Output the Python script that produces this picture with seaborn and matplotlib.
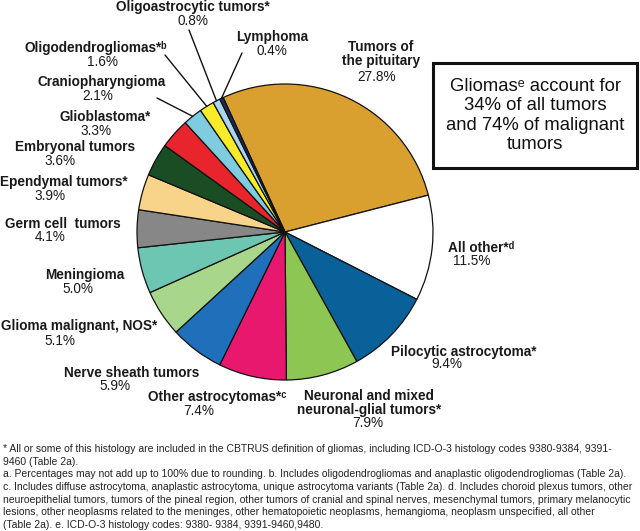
import matplotlib
matplotlib.use("Agg")
import matplotlib.pyplot as plt
import seaborn as sns
import numpy as np
from matplotlib.patches import Rectangle

categories = ["Tumors of\nthe pituitary", "All other*ᵈ", "Pilocytic astrocytoma*",
              "Neuronal and mixed\nneuronal-glial tumors*", "Other astrocytomas*ᶜ",
              "Nerve sheath tumors", "Glioma malignant, NOS*", "Meningioma",
              "Germ cell  tumors", "Ependymal tumors*", "Embryonal tumors",
              "Glioblastoma*", "Craniopharyngioma", "Oligodendrogliomas*ᵇ",
              "Oligoastrocytic tumors*", "Lymphoma"]
values = [27.8, 11.5, 9.4, 7.9, 7.4, 5.9, 5.1, 5.0, 4.1, 3.9, 3.6, 3.3, 2.1, 1.6, 0.8, 0.4]
pct_labels = ["27.8%", "11.5%", "9.4%", "7.9%", "7.4%", "5.9%", "5.1%", "5.0%",
              "4.1%", "3.9%", "3.6%", "3.3%", "2.1%", "1.6%", "0.8%", "0.4%"]
colors = ["#D9A030", "#FFFFFF", "#0A619A", "#8DC653", "#E9186F", "#1F6FBA",
          "#A8D68A", "#6CC6B2", "#878787", "#F8D48A", "#1B4D24", "#E8252C",
          "#7FCCE0", "#F8EC2A", "#A9D6EE", "#1B2A5A"]

box_text = "Gliomasᵉ account for\n34% of all tumors\nand 74% of malignant\ntumors"
footnote = ("* All or some of this histology are included in the CBTRUS definition of gliomas, including ICD-O-3 histology codes 9380-9384, 9391-\n"
            "9460 (Table 2a).\n"
            "a. Percentages may not add up to 100% due to rounding. b. Includes oligodendrogliomas and anaplastic oligodendrogliomas (Table 2a).\n"
            "c. Includes diffuse astrocytoma, anaplastic astrocytoma, unique astrocytoma variants (Table 2a). d. Includes choroid plexus tumors, other\n"
            "neuroepithelial tumors, tumors of the pineal region, other tumors of cranial and spinal nerves, mesenchymal tumors, primary melanocytic\n"
            "lesions, other neoplasms related to the meninges, other hematopoietic neoplasms, hemangioma, neoplasm unspecified, all other\n"
            "(Table 2a). e. ICD-O-3 histology codes: 9380- 9384, 9391-9460,9480.")

sns.set_theme(style="white")
plt.rcParams['font.family'] = ['Liberation Sans', 'DejaVu Sans']

W, H = 640, 531
fig = plt.figure(figsize=(W / 100, H / 100), dpi=100)
ax = fig.add_axes([0, 0, 1, 1])

def Y(y):
    return H - y

cx, cy, R = 285, 232, 148
pal = sns.color_palette(colors)
wedges, _ = ax.pie(values, colors=pal, startangle=114.7, counterclock=False,
                   center=(cx, Y(cy)), radius=R, frame=True,
                   wedgeprops=dict(edgecolor="#111111", linewidth=0.9))
ax.set_xlim(0, W)
ax.set_ylim(0, H)
ax.set_aspect('equal')
ax.axis('off')

# label positions (pixel coords): name center, pct center
label_pos = {
    0: ((381, 54), (377, 77)),
    1: ((481, 248), (472, 261)),
    2: ((464, 352), (447, 364)),
    3: ((369, 403), (368, 423)),
    4: ((217, 397), (199, 411)),
    5: ((132, 373), (115, 386)),
    6: ((79, 326), (60, 341)),
    7: ((85, 275), (78, 289)),
    8: ((63, 224), (50, 237)),
    9: ((64, 182), (50, 196)),
    10: ((75, 147), (60, 161)),
    11: ((105, 117), (96, 131)),
    12: ((102, 82), (98, 96)),
    13: ((96, 48), (103, 62)),
    14: ((193, 7), (193, 21)),
    15: ((272, 37), (272, 51)),
}
fs = 9.8
for i, ((nx, ny), (px, py)) in label_pos.items():
    ax.text(nx, Y(ny), categories[i], ha='center', va='center', fontsize=fs,
            fontweight='bold', color='#1a1a1a', linespacing=1.0)
    ax.text(px, Y(py), pct_labels[i], ha='center', va='center', fontsize=fs,
            color='#1a1a1a')

# leader lines for small slices
leader_start = {14: (189, 30), 15: (242, 53), 13: (165, 55), 12: (157, 98)}
for i, (sx, sy) in leader_start.items():
    w = wedges[i]
    mid = np.deg2rad((w.theta1 + w.theta2) / 2)
    ex, ey = cx + R * np.cos(mid), Y(cy) + R * np.sin(mid)
    ax.plot([sx, ex], [Y(sy), ey], color='#111111', linewidth=1.0)

# box
ax.add_patch(Rectangle((433, Y(168)), 637 - 433, 168 - 63, fill=False,
                       edgecolor='#111111', linewidth=2.2))
ax.text(535, Y(115.5), box_text, ha='center', va='center', fontsize=13.3,
        color='#111111', linespacing=1.2)

ax.text(3, Y(444), footnote, ha='left', va='top', fontsize=7.5,
        color='#222222', linespacing=1.33)

fig.savefig("out.png", dpi=100)
